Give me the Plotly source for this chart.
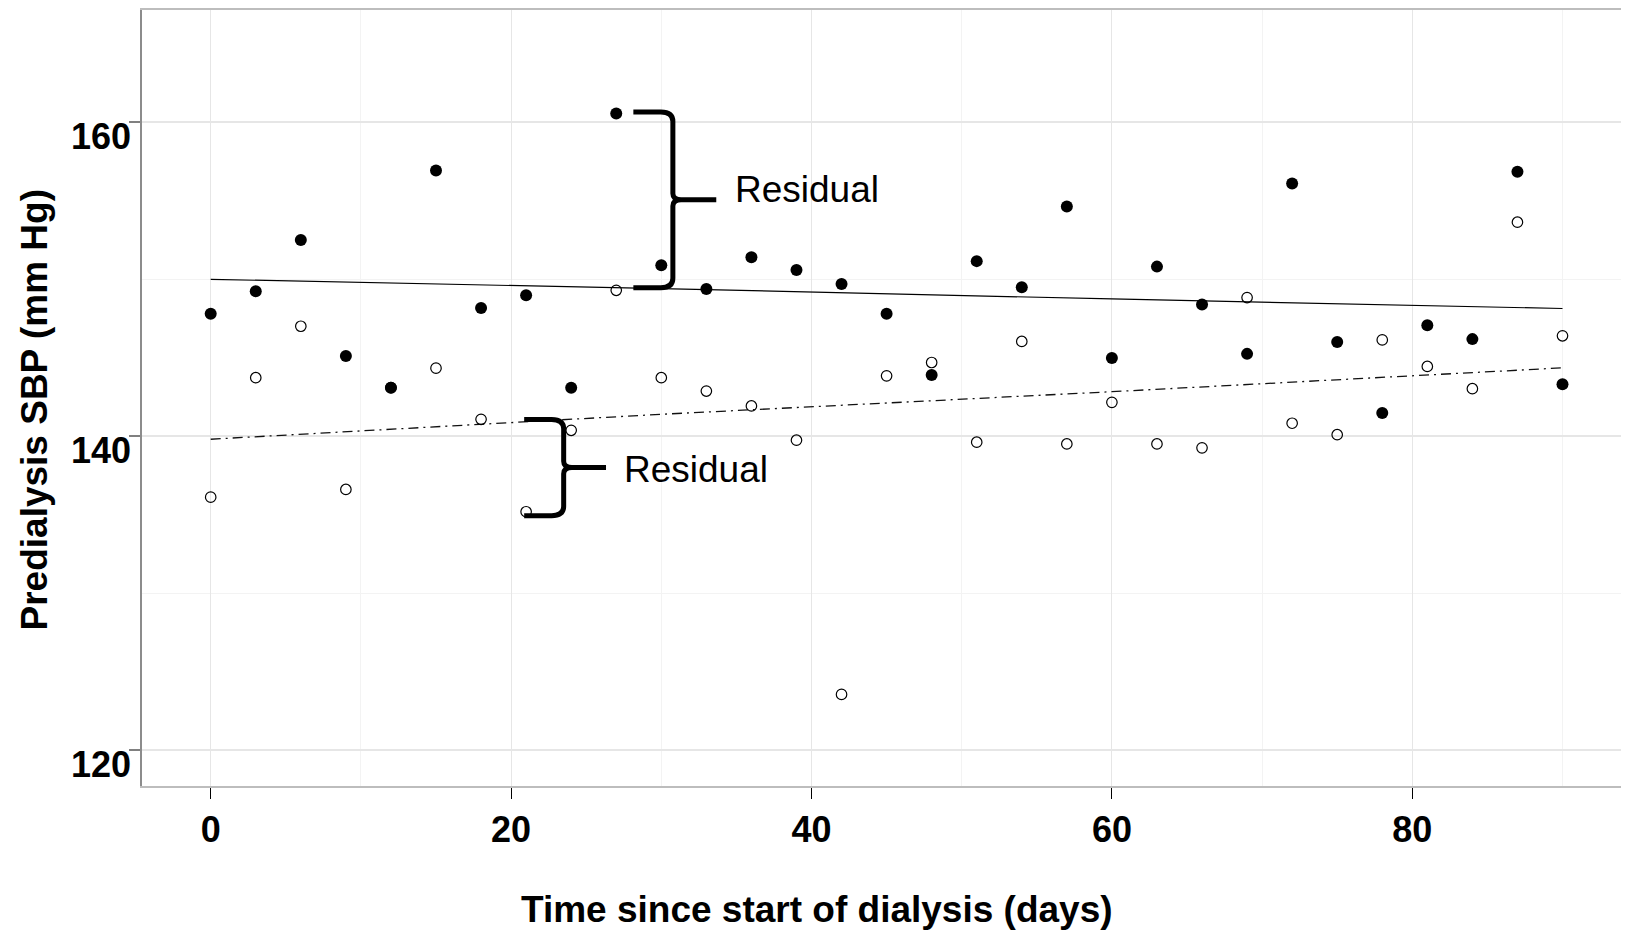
import numpy as np
import plotly.graph_objects as go

# ---------------- data ----------------
days = [0, 3, 6, 9, 12, 15, 18, 21, 24, 27, 30, 33, 36, 39, 42, 45,
        48, 51, 54, 57, 60, 63, 66, 69, 72, 75, 78, 81, 84, 87, 90]

sbp_filled = [147.8, 149.24, 152.5, 145.12, 143.09, 156.93, 148.18, 148.98,
              143.09, 160.57, 150.89, 149.38, 151.4, 150.59, 149.7, 147.8,
              143.9, 151.16, 149.49, 154.64, 144.98, 150.81, 148.39, 145.25,
              156.1, 146.0, 141.48, 147.08, 146.19, 156.85, 143.32]

sbp_open = [136.12, 143.73, 147.01, 136.61, 143.1, 144.34, 141.08, 135.19,
            140.38, 149.3, 143.73, 142.88, 141.93, 139.75, 123.55, 143.85,
            144.7, 139.62, 146.04, 139.51, 142.16, 139.51, 139.26, 148.84,
            140.83, 140.1, 146.14, 144.45, 143.03, 153.64, 146.4]

fit_days = [0, 30, 60, 90]
fit_solid = [150.0, 149.41, 148.75, 148.14]
fit_dashdot = [139.81, 141.4, 142.84, 144.36]

x_ticks = [0, 20, 40, 60, 80]
y_ticks = [120, 140, 160]
x_title = "Time since start of dialysis (days)"
y_title = "Predialysis SBP (mm Hg)"
label_text = "Residual"

# ---------------- style / layout ----------------
W, H = 1629, 931
PAGE_OFF = 8            # browser default body margin
ML, MR, MT, MB = 134, 0, 0, 153
plot_w = W - ML - MR
plot_h = H - MT - MB
FONT = "Liberation Sans, Arial, sans-serif"


def paper_x(px):
    return (px - PAGE_OFF - ML) / plot_w


def paper_y(py):
    return (H - MB - (py - PAGE_OFF)) / plot_h


fig = go.Figure()

fig.add_trace(go.Scatter(x=fit_days, y=fit_solid, mode="lines",
                         line=dict(color="black", width=1.2),
                         hoverinfo="skip", showlegend=False))
fig.add_trace(go.Scatter(x=fit_days, y=fit_dashdot, mode="lines",
                         line=dict(color="#111111", width=1.3, dash="10px,5px,2px,5px"),
                         hoverinfo="skip", showlegend=False))
fig.add_trace(go.Scatter(x=days, y=sbp_open, mode="markers",
                         marker=dict(symbol="circle-open", size=10.5,
                                     color="black", line=dict(width=1.2, color="black")),
                         showlegend=False))
fig.add_trace(go.Scatter(x=days, y=sbp_filled, mode="markers",
                         marker=dict(symbol="circle", size=12, color="black"),
                         showlegend=False))


def brace_path(x0, x1, x2, ytop, ybot, rx=0.8, ry=0.6, mx=0.55, my=0.4):
    ymid = (ytop + ybot) / 2
    return (f"M {x0},{ytop} L {x1 - rx},{ytop} Q {x1},{ytop} {x1},{ytop - ry} "
            f"L {x1},{ymid + my} Q {x1},{ymid} {x1 + mx},{ymid} L {x2},{ymid} "
            f"M {x1 + mx},{ymid} Q {x1},{ymid} {x1},{ymid - my} "
            f"L {x1},{ybot + ry} Q {x1},{ybot} {x1 - rx},{ybot} L {x0},{ybot}"), ymid


# upper brace: filled observation at day 27 to its fitted line
i27 = days.index(27)
up_top = sbp_filled[i27] + 0.1
up_bot = float(np.interp(27, fit_days, fit_solid))
p_up, mid_up = brace_path(28.14, 30.77, 33.66, up_top, up_bot)

# lower brace: fitted dash-dot line at day 21 down to open observation
i21 = days.index(21)
lo_top = float(np.interp(21, fit_days, fit_dashdot)) + 0.15
lo_bot = sbp_open[i21] - 0.25
p_lo, mid_lo = brace_path(20.87, 23.5, 26.32, lo_top, lo_bot)

for p in (p_up, p_lo):
    fig.add_shape(type="path", path=p, xref="x", yref="y",
                  line=dict(color="black", width=5), layer="above")

fig.add_annotation(x=34.75, y=mid_up + 0.65, xref="x", yref="y", text=label_text,
                   showarrow=False, xanchor="left", yanchor="middle",
                   font=dict(family=FONT, size=37, color="black"))
fig.add_annotation(x=27.4, y=mid_lo - 0.1, xref="x", yref="y", text=label_text,
                   showarrow=False, xanchor="left", yanchor="middle",
                   font=dict(family=FONT, size=37, color="black"))

# axis titles as annotations (positioned like the reference)
fig.add_annotation(x=paper_x(816.6), y=paper_y(909.5),
                   xref="paper", yref="paper", text=x_title, showarrow=False,
                   xanchor="center", yanchor="middle",
                   font=dict(family=FONT, size=37, color="black", weight="bold"))
fig.add_annotation(x=paper_x(34), y=paper_y(409.5),
                   xref="paper", yref="paper", text=y_title, showarrow=False,
                   textangle=-90, xanchor="center", yanchor="middle",
                   font=dict(family=FONT, size=37, color="black", weight="bold"))

# axis ranges from the reference's pixel scale
PX_DAY = 15.02
X0_PAGE = 210.7
PX_UNIT = (750.0 - 120.7) / 40.0
Y160_PAGE = 120.7
left_page = PAGE_OFF + ML
right_page = PAGE_OFF + W - MR
top_page = PAGE_OFF + MT
bot_page = PAGE_OFF + H - MB
x_range = [(left_page - X0_PAGE) / PX_DAY, (right_page - X0_PAGE) / PX_DAY]
y_range = [160 - (bot_page - Y160_PAGE) / PX_UNIT, 160 + (Y160_PAGE - top_page) / PX_UNIT]

fig.update_xaxes(range=x_range, tickvals=x_ticks,
                 ticktext=[str(v) for v in x_ticks],
                 showgrid=True, gridcolor="#e6e6e6", gridwidth=1.2,
                 minor=dict(dtick=10, tick0=0, showgrid=True, gridcolor="#f3f3f3",
                            gridwidth=1, ticks=""),
                 ticks="outside", ticklen=11, tickwidth=1, tickcolor="black",
                 showline=True, linecolor="#bdbdbd", linewidth=2, mirror=True,
                 zeroline=False,
                 tickfont=dict(family=FONT, size=36, color="black", weight="bold"))
fig.update_yaxes(range=y_range, tickvals=y_ticks,
                 ticktext=[str(v) for v in y_ticks],
                 showgrid=True, gridcolor="#e6e6e6", gridwidth=1.5,
                 minor=dict(dtick=10, tick0=0, showgrid=True, gridcolor="#f3f3f3",
                            gridwidth=1, ticks=""),
                 ticks="outside", ticklen=11, tickwidth=1.5, tickcolor="#808080",
                 showline=True, linecolor="#8c8c8c", linewidth=1.5, mirror=False,
                 zeroline=False, ticklabelshift=14, ticklabelstandoff=-9,
                 tickfont=dict(family=FONT, size=36, color="black", weight="bold"))

fig.update_layout(width=W, height=H,
                  margin=dict(l=ML, r=MR, t=MT, b=MB, pad=0),
                  plot_bgcolor="white", paper_bgcolor="white",
                  showlegend=False)

fig.write_html("out.html", config={"displayModeBar": False})
